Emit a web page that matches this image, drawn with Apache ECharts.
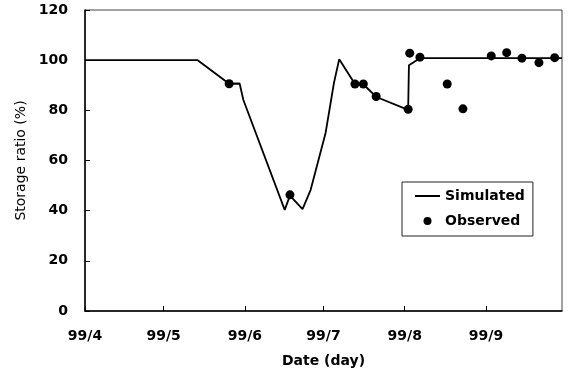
<!DOCTYPE html>
<html>
<head>
<meta charset="utf-8">
<script src="https://cdn.jsdelivr.net/npm/echarts@6/dist/echarts.min.js"></script>
<style>
  html, body { margin: 0; padding: 0; background: #fff; }
  #chart { width: 568px; height: 377px; }
</style>
</head>
<body>
<div id="chart"></div>
<script>
// Days counted from 1999-04-01
const monthTickDays = [0, 30, 61, 91, 122, 153];
const monthTickLabels = ['99/4', '99/5', '99/6', '99/7', '99/8', '99/9'];

// Simulated storage ratio (%)
const simDays   = [0, 43, 55, 59, 60.4, 76.2, 78.2, 83, 86.1, 91.8, 95, 97, 103, 106.1, 111.2, 123.3, 123.6, 127.8, 182];
const simValues = [100, 100, 90.6, 90.7, 84.2, 40.3, 46, 40.6, 48.3, 71, 91, 100.4, 90.5, 90.5, 85.3, 80.2, 98, 100.8, 100.8];

// Observed storage ratio (%)
const obsDays   = [55, 78.2, 103, 106.2, 111.1, 123.3, 123.9, 127.8, 138.2, 144.2, 155, 160.9, 166.7, 173.2, 179.2];
const obsValues = [90.6, 46.3, 90.5, 90.5, 85.5, 80.4, 102.8, 101.2, 90.5, 80.6, 101.7, 103, 100.8, 99, 101];

const yTicks = [0, 20, 40, 60, 80, 100, 120];

const FONT = 'DejaVu Sans';
const chart = echarts.init(document.getElementById('chart'), null, { renderer: 'canvas' });

const simData = simDays.map((d, i) => [d, simValues[i]]);
const obsData = obsDays.map((d, i) => [d, obsValues[i]]);

chart.setOption({
  animation: false,
  backgroundColor: '#fff',
  textStyle: { fontFamily: FONT },
  grid: {
    left: 85, right: 6, top: 10, bottom: 66,
    show: true, borderColor: '#444', borderWidth: 1, backgroundColor: 'transparent'
  },
  xAxis: {
    type: 'value',
    min: 0, max: 182,
    name: 'Date (day)',
    nameLocation: 'middle',
    nameGap: 43,
    nameTextStyle: { fontFamily: FONT, fontWeight: 'bold', fontSize: 14, color: '#000' },
    axisLine: { show: true, lineStyle: { color: '#000', width: 1.5 } },
    axisTick: { show: true, inside: true, length: 5, customValues: monthTickDays, lineStyle: { color: '#000', width: 1 } },
    axisLabel: {
      customValues: monthTickDays,
      formatter: function (v) { const i = monthTickDays.indexOf(v); return i >= 0 ? monthTickLabels[i] : ''; },
      fontFamily: FONT, fontWeight: 'bold', fontSize: 14, color: '#000', margin: 18
    },
    splitLine: { show: false }
  },
  yAxis: {
    type: 'value',
    min: yTicks[0], max: yTicks[yTicks.length - 1], interval: 20,
    name: 'Storage ratio (%)',
    nameLocation: 'middle',
    nameGap: 56,
    nameTextStyle: { fontFamily: FONT, fontSize: 14, color: '#000' },
    axisLine: { show: true, lineStyle: { color: '#000', width: 1.5 } },
    axisTick: { show: true, inside: true, length: 5, lineStyle: { color: '#000', width: 1 } },
    axisLabel: { fontFamily: FONT, fontWeight: 'bold', fontSize: 14, color: '#000', margin: 17 },
    splitLine: { show: false }
  },
  legend: {
    show: true,
    left: 402, top: 182,
    orient: 'vertical',
    padding: [7, 8, 8, 13],
    itemGap: 11,
    itemWidth: 25,
    itemHeight: 8,
    symbolKeepAspect: true,
    backgroundColor: '#fff',
    borderColor: '#222',
    borderWidth: 1,
    textStyle: { fontFamily: FONT, fontWeight: 'bold', fontSize: 14, color: '#000' },
    data: [
      { name: 'Simulated', icon: 'path://M0,0L25,0L25,2L0,2Z' },
      { name: 'Observed', icon: 'circle', itemStyle: { color: '#000', opacity: 1 } }
    ]
  },
  series: [
    {
      name: 'Simulated',
      type: 'line',
      data: simData,
      symbol: 'none',
      lineStyle: { color: '#000', width: 1.8 },
      itemStyle: { color: '#000' },
      z: 2
    },
    {
      name: 'Observed',
      type: 'scatter',
      data: obsData,
      symbol: 'circle',
      symbolSize: 9,
      itemStyle: { color: '#000', opacity: 1 },
      z: 3
    }
  ]
});
</script>
</body>
</html>
